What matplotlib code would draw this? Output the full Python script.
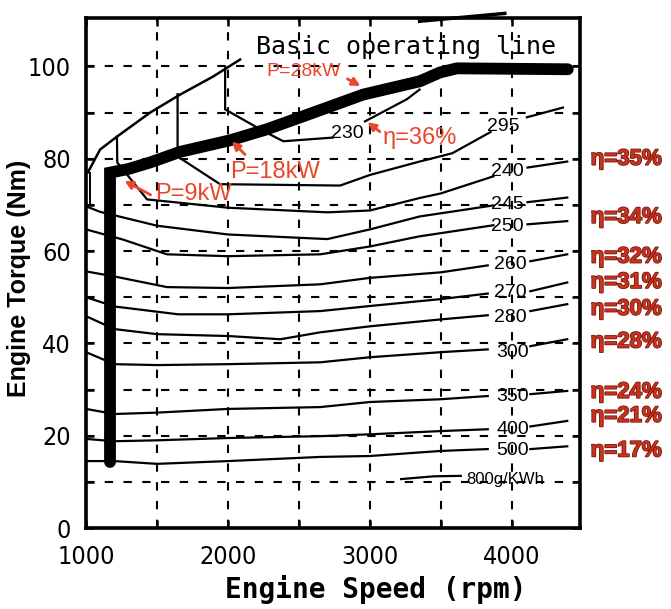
import numpy as np
import matplotlib
matplotlib.use('Agg')
import matplotlib.pyplot as plt
import matplotlib.patheffects as pe

nan = np.nan

# ---- axis ticks ----
x_ticks = [1000, 1500, 2000, 2500, 3000, 3500, 4000]
x_labels = ['1000', '', '2000', '', '3000', '', '4000']
y_ticks = [0, 10, 20, 30, 40, 50, 60, 70, 80, 90, 100]
y_labels = ['0', '', '20', '', '40', '', '60', '', '80', '', '100']

# ---- basic operating line ----
op_rpm = [1169, 1169, 1300, 1451, 1662, 2014, 2275, 2718, 2951, 3352, 3493, 3613, 4394]
op_tq = [14.3, 77.0, 77.8, 79.2, 81.5, 84.0, 86.4, 91.3, 93.9, 96.8, 98.7, 99.6, 99.4]

# ---- maximum torque curve ----
mt_rpm = [1014, 1099, 1218, 1451, 1662, 1894, 2085]
mt_tq = [77.1, 82.0, 84.8, 90.0, 93.9, 97.8, 101.5]
mt2_rpm = [1030, 1030]
mt2_tq = [77.0, 70.0]
mt3_rpm = [3350, 3950]
mt3_tq = [109.8, 111.5]

# ---- BSFC contours (g/kWh); nan separates the gap for the label ----
c230_rpm = [1980, 1980, 2250, 2390, 2740, nan, 2965, 3260, 3350]
c230_tq = [100.0, 90.7, 86.0, 83.8, 84.6, nan, 88.1, 92.9, 95.0]
c235_rpm = [1645, 1645, 1944, 2790, 3000, 3350, 3580, 3850, nan, 4106, 4360]
c235_tq = [94.0, 80.5, 74.5, 74.2, 76.5, 79.4, 81.2, 85.8, nan, 89.0, 91.1]
c240_rpm = [1218, 1220, 1430, 2000, 2700, 3000, 3350, 3500, 3870, nan, 4110, 4390]
c240_tq = [84.8, 79.2, 71.2, 69.4, 68.4, 68.8, 71.5, 72.5, 76.2, nan, 78.1, 79.4]
c245_rpm = [1000, 1100, 1500, 2000, 2700, 3000, 3350, 3870, nan, 4110, 4390]
c245_tq = [69.7, 68.5, 65.5, 63.6, 62.6, 64.7, 67.5, 69.9, nan, 70.6, 71.6]
c250_rpm = [1000, 1260, 1570, 2000, 2650, 3000, 3350, 3870, nan, 4110, 4390]
c250_tq = [64.7, 62.5, 59.3, 58.9, 59.3, 61.0, 63.2, 65.6, nan, 65.8, 66.5]
c260_rpm = [1000, 1200, 1570, 2000, 2650, 3000, 3500, 3830, nan, 4130, 4390]
c260_tq = [55.6, 54.5, 52.2, 52.0, 52.8, 54.2, 55.4, 56.9, nan, 57.8, 59.3]
c270_rpm = [1000, 1200, 1650, 2000, 2650, 3000, 3500, 3830, nan, 4130, 4390]
c270_tq = [50.0, 48.0, 46.3, 46.3, 47.0, 48.1, 49.6, 50.8, nan, 51.3, 53.2]
c280_rpm = [1000, 1200, 1500, 2000, 2370, 2650, 3000, 3500, 3830, nan, 4130, 4390]
c280_tq = [45.9, 43.1, 42.0, 41.6, 40.9, 42.4, 43.7, 45.2, 46.1, nan, 47.0, 48.5]
c300_rpm = [1000, 1200, 1500, 2000, 2650, 3000, 3500, 3830, nan, 4130, 4390]
c300_tq = [38.1, 35.5, 35.3, 35.5, 35.9, 37.0, 38.1, 38.7, nan, 39.4, 40.9]
c350_rpm = [1000, 1200, 1500, 2000, 2650, 3000, 3500, 3830, nan, 4130, 4390]
c350_tq = [25.8, 24.7, 25.0, 25.8, 26.2, 27.3, 27.9, 28.6, nan, 29.0, 29.7]
c400_rpm = [1000, 1200, 1500, 2000, 2650, 3000, 3500, 3830, nan, 4130, 4390]
c400_tq = [19.3, 18.8, 19.0, 19.5, 19.9, 20.3, 21.0, 21.4, nan, 22.0, 23.2]
c500_rpm = [1000, 1200, 1500, 2000, 2650, 3000, 3500, 3830, nan, 4130, 4390]
c500_tq = [14.5, 14.5, 13.9, 14.5, 15.4, 15.6, 16.7, 17.1, nan, 17.1, 17.7]
c800_rpm = [3220, 3450, 3640]
c800_tq = [10.6, 11.2, 11.3]

# contour labels: text, rpm, torque
lab_text = ['230', '295', '240', '245', '250', '260', '270', '280', '300', '350', '400', '500']
lab_rpm = [2840, 3937, 3965, 3965, 3965, 3986, 3986, 3986, 4005, 4005, 4005, 4005]
lab_tq = [85.5, 87.0, 77.3, 70.1, 65.4, 57.1, 51.1, 45.7, 38.1, 28.6, 21.4, 16.7]

# power annotations: text, text pos, arrow tail, arrow tip
pw_text = ['P=28kW', 'P=18kW', 'P=9kW']
pw_rpm = [2268, 2014, 1486]
pw_tq = [98.9, 77.1, 72.3]
pw_tail_rpm = [2824, 2134, 1472]
pw_tail_tq = [97.6, 80.5, 71.9]
pw_tip_rpm = [2951, 2014, 1254]
pw_tip_tq = [95.5, 84.2, 75.5]

# efficiency labels on right side
eta_text = ['η=35%', 'η=34%', 'η=32%', 'η=31%', 'η=30%', 'η=28%', 'η=24%', 'η=21%', 'η=17%']
eta_tq = [79.9, 67.3, 58.7, 53.2, 47.4, 40.3, 29.4, 24.2, 16.7]

SANS = ['Liberation Sans', 'DejaVu Sans']
RED = '#E9472B'
DRED = '#C8321E'
pw_sizes = [14, 17, 17]

fig = plt.figure(figsize=(6.71, 6.09), dpi=100)
ax = fig.add_axes([0.1282, 0.133, 0.7362, 0.8374])
ax.set_xlim(1000, 4480)
ax.set_ylim(0, 110.5)

ax.set_xticks(x_ticks)
ax.set_xticklabels(x_labels, fontfamily='DejaVu Sans', fontstretch='condensed', fontsize=18)
ax.set_yticks(y_ticks)
ax.set_yticklabels(y_labels, fontfamily='DejaVu Sans', fontstretch='condensed', fontsize=18)
ax.tick_params(direction='in', length=6, width=1.8, top=True, right=True)
ax.tick_params(axis='y', pad=11)
ax.tick_params(axis='x', pad=12)
ax.grid(True, color='black', linestyle=(0, (4, 5)), linewidth=1.5)
ax.set_axisbelow(True)
for s in ax.spines.values():
    s.set_linewidth(2.6)

contours = [(c230_rpm, c230_tq), (c235_rpm, c235_tq), (c240_rpm, c240_tq), (c245_rpm, c245_tq),
            (c250_rpm, c250_tq), (c260_rpm, c260_tq), (c270_rpm, c270_tq), (c280_rpm, c280_tq),
            (c300_rpm, c300_tq), (c350_rpm, c350_tq), (c400_rpm, c400_tq), (c500_rpm, c500_tq),
            (c800_rpm, c800_tq)]
for r, t in contours:
    ax.plot(r, t, color='black', lw=1.6, zorder=3)

ax.plot(mt_rpm, mt_tq, color='black', lw=1.8, zorder=3)
ax.plot(mt2_rpm, mt2_tq, color='black', lw=1.4, zorder=3)
ax.plot(mt3_rpm, mt3_tq, color='black', lw=2.5, zorder=3, clip_on=False)

ax.plot(op_rpm, op_tq, color='black', lw=8.5, solid_capstyle='round',
        solid_joinstyle='miter', zorder=4)

for s, x, y in zip(lab_text, lab_rpm, lab_tq):
    ax.text(x, y, s, ha='center', va='center', fontsize=14, fontfamily=SANS, zorder=5)
ax.text(3680, 10.6, '800g/KWh', ha='left', va='center', fontsize=12,
        fontfamily=SANS, zorder=5)

ax.text(2200, 104.3, 'Basic operating line', ha='left', va='center',
        fontsize=18, fontfamily='DejaVu Sans Mono', zorder=5)

for s, x, y, tx, ty, hx, hy, fs in zip(pw_text, pw_rpm, pw_tq, pw_tail_rpm, pw_tail_tq,
                                         pw_tip_rpm, pw_tip_tq, pw_sizes):
    ax.text(x, y, s, ha='left', va='center', fontsize=fs, color=RED,
            fontfamily=SANS, zorder=6)
    ax.annotate('', xy=(hx, hy), xytext=(tx, ty),
                arrowprops=dict(arrowstyle='-|>', color=RED, lw=2, mutation_scale=12),
                zorder=6)

ax.text(3092, 84.6, 'η=36%', ha='left', va='center', fontsize=17, color=RED,
        fontfamily=SANS, zorder=6)
ax.annotate('', xy=(2968, 88.3), xytext=(3085, 85.5),
            arrowprops=dict(arrowstyle='-|>', color=RED, lw=2, mutation_scale=12), zorder=6)

for s, y in zip(eta_text, eta_tq):
    ax.text(4555, y, s, ha='left', va='center', fontsize=16, fontweight='bold',
            color=DRED, fontfamily=SANS, clip_on=False,
            path_effects=[pe.withStroke(linewidth=1.2, foreground='#7a1a0e')])

ax.set_xlabel('Engine Speed (rpm)', fontsize=20, fontweight='bold',
              fontfamily='DejaVu Sans Mono')
ax.xaxis.set_label_coords(0.587, -0.092)
ax.set_ylabel('Engine Torque (Nm)', fontsize=18, fontweight='bold', fontfamily=SANS)
ax.yaxis.set_label_coords(-0.112, 0.49)

fig.savefig('out.png', dpi=100)
